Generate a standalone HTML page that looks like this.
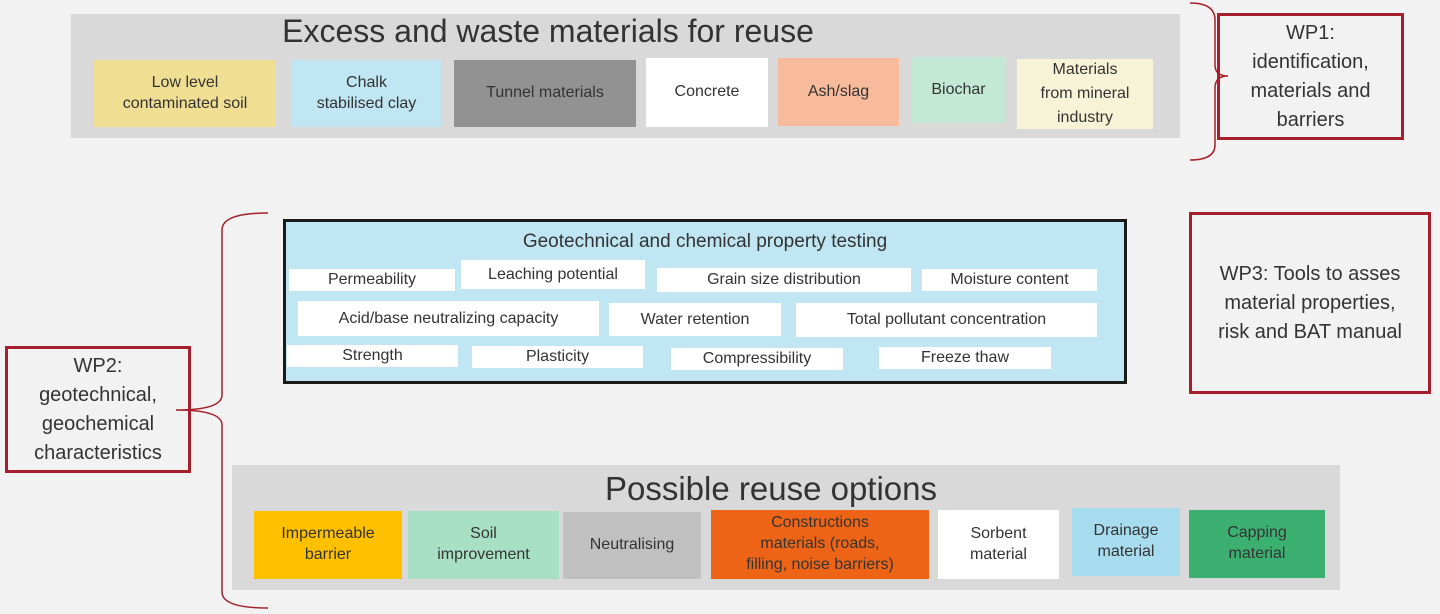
<!DOCTYPE html>
<html><head><style>
body{margin:0;width:1440px;height:614px;background:#f2f2f2;position:relative;overflow:hidden;font-family:"Liberation Sans",sans-serif;color:#333}
.a{position:absolute;box-sizing:border-box;display:flex;align-items:center;justify-content:center;text-align:center;line-height:1.3}
.g{position:absolute;background:#d9d9d9}
.w{position:absolute;background:#fff;font-size:16px;display:flex;align-items:center;justify-content:center;color:#333}
.r{border:3px solid #a5202a;font-size:20px;line-height:1.45}
</style></head><body>
<div class="g" style="left:71px;top:14px;width:1109px;height:124px"></div>
<div class="a" style="left:71px;top:13px;width:954px;height:38px;font-size:32px;white-space:nowrap">Excess and waste materials for reuse</div>
<div class="a" style="left:94px;top:60px;width:182px;height:67px;background:#f0df92;font-size:16px">Low level<br>contaminated soil</div>
<div class="a" style="left:292px;top:60px;width:149px;height:67px;background:#bfe6f2;font-size:16px">Chalk<br>stabilised clay</div>
<div class="a" style="left:454px;top:60px;width:182px;height:67px;background:#929292;font-size:16px">Tunnel materials</div>
<div class="a" style="left:646px;top:58px;width:122px;height:69px;background:#fff;font-size:16px">Concrete</div>
<div class="a" style="left:778px;top:58px;width:121px;height:68px;background:#f7bb9b;font-size:16px">Ash/slag</div>
<div class="a" style="left:912px;top:57px;width:93px;height:66px;background:#c4e8d6;font-size:16px">Biochar</div>
<div class="a" style="left:1017px;top:59px;width:136px;height:70px;background:#f7f3d6;font-size:16px;line-height:1.5">Materials<br>from mineral<br>industry</div>
<div class="a r" style="left:1217px;top:13px;width:187px;height:127px">WP1:<br>identification,<br>materials and<br>barriers</div>
<div class="a r" style="left:1189px;top:212px;width:242px;height:182px">WP3: Tools to asses<br>material properties,<br>risk and BAT manual</div>
<div class="a r" style="left:5px;top:346px;width:186px;height:127px">WP2:<br>geotechnical,<br>geochemical<br>characteristics</div>
<svg style="position:absolute;left:0;top:0" width="1440" height="614"><g fill="none" stroke="#a5202a" stroke-width="1.5">
<path d="M1190 3 Q1215 3 1215 20 L1215 65 Q1215 76 1228 76 Q1215 76 1215 88 L1215 145 Q1215 160 1190 160"/>
<path d="M268 213 Q222 213 222 230 L222 395 Q222 410 176 410 Q222 410 222 425 L222 592 Q222 608 268 608"/></g></svg>
<div class="a" style="left:283px;top:219px;width:844px;height:165px;background:#bfe6f2;border:3px solid #1a1a1a"></div>
<div class="a" style="left:283px;top:229px;width:844px;height:26px;font-size:19px">Geotechnical and chemical property testing</div>
<div class="w" style="left:289px;top:269px;width:166px;height:22px">Permeability</div>
<div class="w" style="left:461px;top:260px;width:184px;height:29px">Leaching potential</div>
<div class="w" style="left:657px;top:268px;width:254px;height:24px">Grain size distribution</div>
<div class="w" style="left:922px;top:269px;width:175px;height:22px">Moisture content</div>
<div class="w" style="left:298px;top:301px;width:301px;height:35px">Acid/base neutralizing capacity</div>
<div class="w" style="left:609px;top:303px;width:172px;height:33px">Water retention</div>
<div class="w" style="left:796px;top:303px;width:301px;height:34px">Total pollutant concentration</div>
<div class="w" style="left:287px;top:345px;width:171px;height:22px">Strength</div>
<div class="w" style="left:472px;top:346px;width:171px;height:22px">Plasticity</div>
<div class="w" style="left:671px;top:348px;width:172px;height:22px">Compressibility</div>
<div class="w" style="left:879px;top:347px;width:172px;height:22px">Freeze thaw</div>
<div class="g" style="left:232px;top:465px;width:1108px;height:125px"></div>
<div class="a" style="left:232px;top:469px;width:1078px;height:40px;font-size:33px">Possible reuse options</div>
<div class="a" style="left:254px;top:511px;width:148px;height:68px;background:#ffc000;font-size:16px">Impermeable<br>barrier</div>
<div class="a" style="left:408px;top:511px;width:151px;height:68px;background:#a8e0c6;font-size:16px">Soil<br>improvement</div>
<div class="a" style="left:563px;top:512px;width:138px;height:67px;background:#c0c0c0;font-size:16px">Neutralising</div>
<div class="a" style="left:711px;top:510px;width:218px;height:69px;background:#ee6416;font-size:16px">Constructions<br>materials (roads,<br>filling, noise barriers)</div>
<div class="a" style="left:938px;top:510px;width:121px;height:69px;background:#fff;font-size:16px">Sorbent<br>material</div>
<div class="a" style="left:1072px;top:508px;width:108px;height:68px;background:#a6dcee;font-size:16px">Drainage<br>material</div>
<div class="a" style="left:1189px;top:510px;width:136px;height:68px;background:#3bb071;font-size:16px">Capping<br>material</div>
</body></html>
